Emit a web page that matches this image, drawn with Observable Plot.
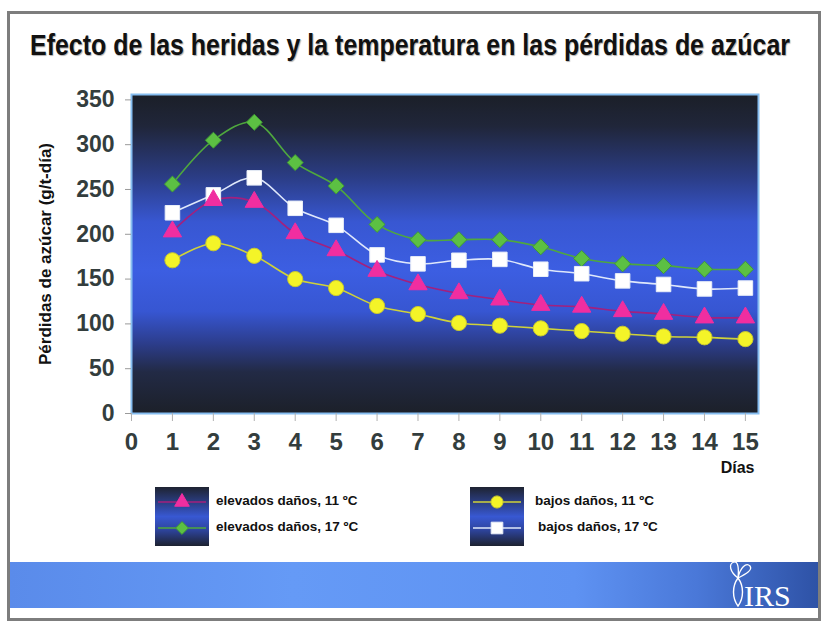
<!DOCTYPE html>
<html><head><meta charset="utf-8">
<script src="https://cdn.jsdelivr.net/npm/d3@7"></script>
<script src="https://cdn.jsdelivr.net/npm/@observablehq/plot@0.6"></script>
<style>
body{margin:0;background:#fff;width:825px;height:632px;position:relative;overflow:hidden;font-family:"Liberation Sans",Arial,sans-serif;}
#frame{position:absolute;left:7px;top:11px;width:808px;height:604px;border:3px solid #7d7d7d;}
#title{position:absolute;left:30px;top:28px;font:bold 30px "Liberation Sans Narrow","Liberation Sans",sans-serif;white-space:nowrap;transform-origin:0 0;color:#111;text-shadow:1px 1px 1px #b0b0b0;}
#chart{position:absolute;left:0;top:80px;}
.legbox{position:absolute;top:487px;}
.legtxt{position:absolute;font:bold 13.5px "Liberation Sans",Arial,sans-serif;color:#111;white-space:nowrap;}
#banner{position:absolute;left:10px;top:562px;width:808px;height:46px;background:linear-gradient(to right,#5a8bea 0%,#659af6 35%,#5e92f2 70%,#4a78d8 85%,#2e52a6 100%);}
#logo{position:absolute;left:722px;top:556px;}
</style>
</head><body>
<div id="frame"></div>
<div id="title">Efecto de las heridas y la temperatura en las pérdidas de azúcar</div>
<div id="chart"></div>
<div id="legend"></div>
<div id="banner"></div>
<svg id="logo" width="80" height="55"></svg>
<script>
// ---- data ----
const days = [1,2,3,4,5,6,7,8,9,10,11,12,13,14,15];
const elevados11 = [203,238,236,201,182,159,144,134,127,121,119,114,111,107,107];
const elevados17 = [256,305,325,280,254,211,194,194,194,186,173,167,165,161,161];
const bajos11 = [171,190,176,150,140,120,111,101,98,95,92,89,86,85,83];
const bajos17 = [224,244,263,229,210,177,167,171,172,161,156,148,144,139,140];
const seriesNames = ["elevados daños, 17 ºC","bajos daños, 17 ºC","elevados daños, 11 ºC","bajos daños, 11 ºC"];
const xTicks = [0,1,2,3,4,5,6,7,8,9,10,11,12,13,14,15];
const yTicks = [0,50,100,150,200,250,300,350];
const yLabel = "Pérdidas de azúcar (g/t-día)";
const xLabel = "Días";

const styles = {
  "elevados daños, 17 ºC": {values: elevados17, line:"#4fa83e", fill:"#5cc043", stroke:"#3f9a34", symbol:"diamond2", r:7.2},
  "bajos daños, 17 ºC":    {values: bajos17, line:"#dfe8fb", fill:"#ffffff", stroke:"#e8eef8", symbol:"square", r:8.2},
  "elevados daños, 11 ºC": {values: elevados11, line:"#a3207e", fill:"#f02ea0", stroke:"#f02ea0", symbol:"triangle", r:6.8},
  "bajos daños, 11 ºC":    {values: bajos11, line:"#cfd23a", fill:"#f4f428", stroke:"#c8c830", symbol:"circle", r:7.6}
};

const marks = [Plot.frame({fill:"url(#plotbg)", stroke:"#86bdf0", strokeWidth:2})];
for (const name of seriesNames) {
  const s = styles[name];
  const rows = days.map((d,i)=>({day:d, value:s.values[i]}));
  marks.push(Plot.line(rows, {x:"day", y:"value", stroke:s.line, strokeWidth:1.6, curve:"catmull-rom"}));
}
for (const name of seriesNames) {
  const s = styles[name];
  const rows = days.map((d,i)=>({day:d, value:s.values[i]}));
  marks.push(Plot.dot(rows, {x:"day", y:"value", symbol:s.symbol, r:s.r, fill:s.fill, stroke:s.stroke, strokeWidth:1}));
}
marks.push(Plot.axisY({ticks:yTicks, tickSize:6, tickPadding:11, fontSize:23, fill:"#333d3d", stroke:"#9a9a9a", label:null}));
marks.push(Plot.axisX({ticks:xTicks, tickSize:8, tickPadding:11, fontSize:24, fill:"#333d3d", stroke:"#b0b0b0", label:null}));
marks.push(Plot.text([yLabel], {frameAnchor:"left", dx:-86, rotate:-90, textAnchor:"middle", fontSize:17, fill:"#111", text:d=>d}));
marks.push(Plot.text([xLabel], {frameAnchor:"bottom-right", dx:-4, dy:59, textAnchor:"end", fontSize:16, fill:"#111", text:d=>d}));

const svg = Plot.plot({
  width:825, height:400,
  marginLeft:131, marginRight:67, marginTop:14, marginBottom:67,
  x:{domain:[0,15.32]},
  y:{domain:[0,356]},
  style:{fontFamily:"'Liberation Sans', Arial, sans-serif", fontWeight:"bold", background:"transparent", overflow:"visible"},
  marks
});
const defs = d3.select(svg).insert("defs", ":first-child");
function addGrad(id){
  const g = defs.append("linearGradient").attr("id",id).attr("x1",0).attr("y1",0).attr("x2",0).attr("y2",1);
  [[0,"#1b1f28"],[0.1,"#20263a"],[0.26,"#2b3d86"],[0.4,"#3857d2"],[0.55,"#3c5ee2"],[0.68,"#3756d2"],[0.78,"#2c3d8c"],[0.87,"#222a45"],[1,"#1c2029"]]
    .forEach(([o,c])=>g.append("stop").attr("offset",o).attr("stop-color",c));
}
addGrad("plotbg");
document.getElementById("chart").appendChild(svg);

// title width fit
const t = document.getElementById("title");
const w = t.getBoundingClientRect().width;
t.style.transform = `scaleX(${760/w})`;

// legend
const leg = document.getElementById("legend");
const legendGroups = [
  {left:155, items:["elevados daños, 11 ºC","elevados daños, 17 ºC"], textLeft:[216,216]},
  {left:470, items:["bajos daños, 11 ºC","bajos daños, 17 ºC"], textLeft:[535,538]}
];
const symMap = {triangle:d3.symbolTriangle, diamond2:d3.symbolDiamond2, square:d3.symbolSquare, circle:d3.symbolCircle};
legendGroups.forEach((g,gi)=>{
  const box = d3.create("svg").attr("class","legbox").attr("width",54).attr("height",59).style("left",g.left+"px");
  const gd = box.append("defs").append("linearGradient").attr("id","lg"+gi).attr("x1",0).attr("y1",0).attr("x2",0).attr("y2",1);
  [[0,"#1e2331"],[0.3,"#2d4290"],[0.5,"#3858d2"],[0.72,"#2e45a0"],[1,"#1d2230"]].forEach(([o,c])=>gd.append("stop").attr("offset",o).attr("stop-color",c));
  box.append("rect").attr("width",54).attr("height",59).attr("fill",`url(#lg${gi})`);
  g.items.forEach((name,i)=>{
    const s = styles[name];
    const y = i===0 ? 15 : 41;
    box.append("line").attr("x1",3).attr("x2",51).attr("y1",y).attr("y2",y).attr("stroke",s.line).attr("stroke-width",1.4);
    box.append("path").attr("d",d3.symbol(symMap[s.symbol], Math.PI*(s.r*0.8)**2)()).attr("transform",`translate(27,${y})`)
      .attr("fill",s.fill).attr("stroke",s.stroke);
    const tx = document.createElement("div");
    tx.className="legtxt"; tx.textContent=name;
    tx.style.left = g.textLeft[i]+"px"; tx.style.top = (487+y-9)+"px";
    leg.appendChild(tx);
  });
  leg.appendChild(box.node());
});

// IRS logo
const logo = d3.select("#logo");
logo.append("text").attr("x",22).attr("y",50).attr("fill","#fff").attr("font-family","'Liberation Serif',serif").attr("font-size",30).text("IRS");
logo.append("path").attr("d","M16,22 C10,30 10,42 16,50 C22,42 22,30 16,22 Z").attr("fill","none").attr("stroke","#fff").attr("stroke-width",1.4);
logo.append("path").attr("d","M16,22 C8,16 6,8 12,6 C16,5 17,12 16,22 C18,12 24,6 28,10 C31,14 24,18 16,22").attr("fill","none").attr("stroke","#fff").attr("stroke-width",1.3);
</script>
</body></html>
